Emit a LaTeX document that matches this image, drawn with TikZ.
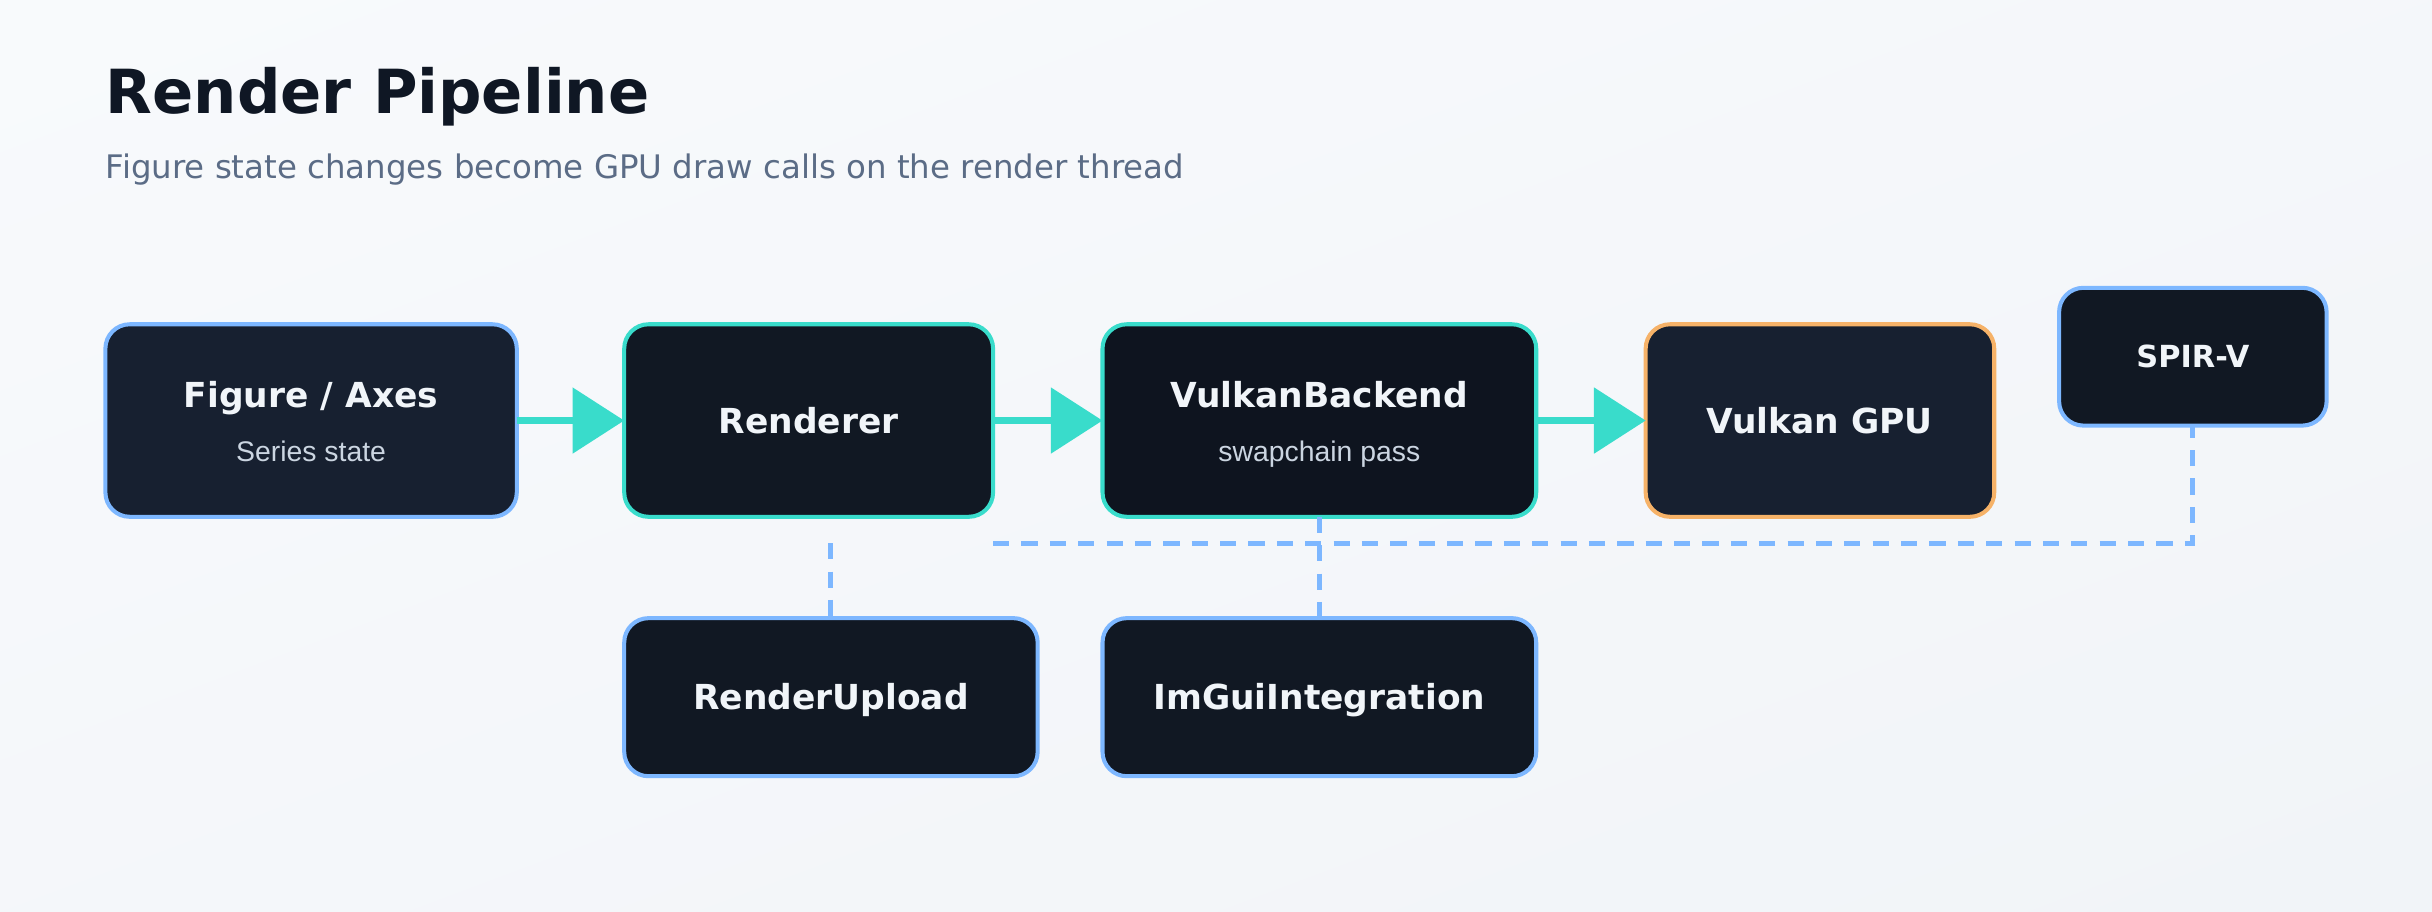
\documentclass[tikz,border=0pt]{standalone}
\usepackage{fontspec}
\setmainfont{DejaVu Sans}
\newfontfamily\pipesubfont{Liberation Sans}
\usepackage{xcolor}
\usetikzlibrary{arrows.meta,positioning,calc,shadings}
\definecolor{pipebgA}{HTML}{F8FAFC}
\definecolor{pipebgB}{HTML}{F1F4F8}
\definecolor{pipeink}{HTML}{0F1724}
\definecolor{pipeslate}{HTML}{5B6C86}
\definecolor{pipepanel}{HTML}{172030}
\definecolor{pipedark}{HTML}{111823}
\definecolor{pipedeep}{HTML}{0E141F}
\definecolor{pipeblue}{HTML}{7DB7FF}
\definecolor{pipeteal}{HTML}{39DCCB}
\definecolor{pipeorange}{HTML}{F6B268}
\definecolor{pipetext}{HTML}{F1F5F9}
\definecolor{pipemuted}{HTML}{CBD5E1}
\tikzset{
  pipebox/.style={draw=pipeblue,line width=2pt,rounded corners=12pt,fill=pipedark,minimum height=95pt,inner sep=0pt,outer sep=0pt,font=\fontsize{17}{20}\selectfont\bfseries,text=pipetext,text height=12.4pt,text depth=0pt},
  pipehead/.style={font=\fontsize{17}{20}\selectfont\bfseries,text=pipetext,anchor=base,inner sep=0pt},
  pipesub/.style={font=\pipesubfont\fontsize{14}{16}\selectfont,text=pipemuted,anchor=base,inner sep=0pt},
  pipeflow/.style={-{Triangle[length=25.5pt,width=32pt]},draw=pipeteal,line width=3pt},
  pipelink/.style={draw=pipeblue,line width=2.5pt,dash pattern=on 8pt off 6pt}
}
\begin{document}
\begin{tikzpicture}[x=1pt,y=-1pt]
\useasboundingbox (0,0) rectangle (1200,450);
\shade[upper left=pipebgA,upper right=pipebgA!50!pipebgB,lower left=pipebgA!50!pipebgB,lower right=pipebgB] (0,0) rectangle (1200,450);
\node[anchor=base west,inner sep=0pt,font=\fontsize{30}{36}\selectfont\bfseries,text=pipeink] (title) at (52,56) {Render Pipeline};
\node[anchor=base west,inner sep=0pt,font=\fontsize{16}{19}\selectfont,text=pipeslate] (subtitle) at (52,88) {Figure state changes become GPU draw calls on the render thread};
% main row
\node[pipebox,fill=pipepanel,minimum width=203pt] (fig) at (153.5,207.5) {};
\node[pipehead] (fig-t) at ([yshift=6.5pt]fig.center) {Figure / Axes};
\node[pipesub] (fig-s) at ([yshift=-20pt]fig.center) {Series state};
\node[pipebox,draw=pipeteal,minimum width=182pt] (ren) at (399,207.5) {Renderer};
\node[pipebox,draw=pipeteal,fill=pipedeep,minimum width=214pt] (vkb) at (651,207.5) {};
\node[pipehead] (vkb-t) at ([yshift=6.5pt]vkb.center) {VulkanBackend};
\node[pipesub] (vkb-s) at ([yshift=-20pt]vkb.center) {swapchain pass};
\node[pipebox,draw=pipeorange,fill=pipepanel,minimum width=172pt] (gpu) at (898,207.5) {Vulkan GPU};
\node[pipebox,minimum width=132pt,minimum height=68pt,font=\fontsize{15}{18}\selectfont\bfseries,text height=11pt] (spv) at (1082,176) {SPIR-V};
% lower row
\node[pipebox,minimum width=204pt,minimum height=78pt] (upl) at (410,344) {RenderUpload};
\node[pipebox,minimum width=214pt,minimum height=78pt] (gui) at (651,344) {ImGuiIntegration};
\foreach \a/\b in {fig/ren,ren/vkb,vkb/gpu}{\draw[pipeflow] (\a.east) -- (\b.west);}
\coordinate (bus) at (490,268);
\draw[pipelink] (upl.north |- bus) -- (upl.north);
\draw[pipelink] (vkb.south) -- (gui.north);
\draw[pipelink] (bus) -| (spv.south);
\end{tikzpicture}
\end{document}
